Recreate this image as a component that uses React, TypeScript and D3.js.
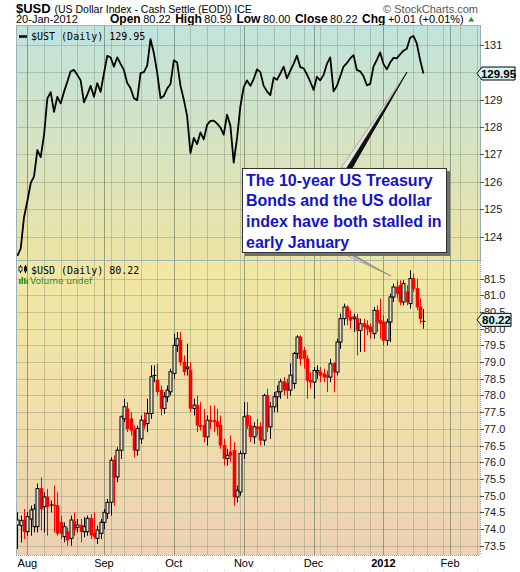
import React from "react";
import * as d3 from "d3";

const W = 520;
const H = 572;

// $UST daily closes (Jul 27 2011 .. Jan 20 2012)
const ustClose = [
  123.3, 123.57, 124.72, 125.3, 125.95, 126.2, 127.16, 126.9, 127.7, 129.04,
  129.27, 128.55, 129.1, 128.86, 129.28, 129.65, 130.03, 130.08, 129.9, 129.7,
  128.9, 129.18, 129.5, 129.1, 129.6, 129.28, 129.95, 130.59, 130.54, 130.2,
  130.54, 130.3, 130.08, 129.6, 129.41, 129.05, 128.98, 129.96, 130.0, 130.24,
  131.2, 130.7, 129.98, 129.05, 129.13, 129.4, 129.57, 130.43, 130.35, 129.5,
  129.0, 128.4, 127.05, 127.6, 127.38, 127.8, 127.55, 128.08, 128.22, 128.23,
  128.12, 127.98, 127.72, 128.45, 128.05, 126.7, 127.6, 128.75, 129.45, 129.7,
  129.5, 129.75, 130.1, 130.0, 129.5, 129.3, 129.16, 129.8, 129.72, 129.95,
  130.2, 129.77, 130.05, 130.3, 130.6, 130.18, 130.14, 129.92, 129.65, 129.35,
  129.83, 129.7, 129.9, 130.3, 130.54, 129.3, 129.5, 129.85, 130.2, 130.33,
  130.5, 130.62, 130.08, 130.03, 129.85, 129.52, 129.57, 130.2, 130.45, 130.72,
  130.3, 130.1, 130.35, 130.52, 130.5, 130.65, 130.78, 130.85, 131.25, 131.32,
  131.05, 130.45, 129.95,
];

// $USD daily OHLC
const usdOpen = [
  74.12, 74.1, 74.27, 73.92, 74.3, 74.07, 74.07, 75.21, 74.67, 74.96,
  74.7, 74.72, 74.7, 74.2, 73.77, 73.92, 73.72, 74.22, 74.05, 74.12,
  73.92, 73.92, 74.32, 73.87, 73.72, 73.87, 74.2, 74.47, 74.8, 76.06,
  75.56, 76.36, 77.3, 77.6, 77.3, 76.96, 76.36, 76.7, 77.26, 77.16,
  77.46, 78.56, 78.46, 78.16, 77.61, 77.96, 78.11, 78.66, 79.5, 79.65,
  79.0, 78.8, 78.76, 77.61, 77.71, 77.11, 77.11, 76.76, 77.26, 77.26,
  77.21, 77.11, 76.51, 76.11, 76.31, 76.36, 74.96, 75.11, 76.26, 77.41,
  77.11, 76.76, 77.06, 77.06, 76.66, 78.0, 77.06, 77.66, 77.96, 78.11,
  78.41, 78.36, 78.16, 78.36, 79.26, 79.75, 79.35, 79.1, 78.45, 78.4,
  78.7, 78.7, 78.65, 78.6, 78.55, 78.95, 78.7, 79.6, 80.3, 80.65,
  80.35, 80.3, 80.3, 79.95, 80.15, 80.1, 80.05, 79.85, 80.55, 80.25,
  80.2, 79.65, 80.2, 80.95, 81.25, 81.3, 80.8, 81.1, 80.75, 81.5,
  81.2, 80.65, 80.22,
];
const usdHigh = [
  74.5, 74.4, 74.6, 74.5, 74.7, 74.75, 75.36, 75.55, 75.1, 75.2,
  74.85, 75.3, 75.1, 74.4, 74.2, 74.05, 74.4, 74.5, 74.3, 74.3,
  74.35, 74.4, 74.45, 74.5, 74.1, 74.3, 74.6, 74.9, 76.15, 76.2,
  76.45, 77.4, 77.9, 77.8, 77.5, 77.1, 77.1, 77.4, 77.5, 77.9,
  78.9, 78.9, 78.95, 78.3, 78.1, 78.3, 78.8, 79.85, 79.9, 79.9,
  79.2, 79.55, 79.0, 77.9, 78.0, 77.8, 77.6, 77.4, 77.7, 77.7,
  77.6, 77.4, 76.7, 76.4, 76.8, 76.6, 75.3, 76.35, 77.8, 77.8,
  77.4, 77.2, 77.3, 77.2, 78.05, 78.2, 77.8, 78.1, 78.3, 78.5,
  78.55, 78.5, 78.96, 79.3, 79.8, 79.8, 79.45, 79.2, 78.7, 78.85,
  78.9, 78.85, 78.8, 78.75, 79.1, 79.0, 79.7, 80.45, 80.75, 80.7,
  80.55, 80.45, 80.45, 80.3, 80.3, 80.25, 80.15, 80.65, 80.7, 80.9,
  80.4, 80.3, 81.05, 81.35, 81.45, 81.45, 81.45, 81.3, 81.75, 81.65,
  81.5, 80.9, 80.59,
];
const usdLow = [
  73.4, 73.6, 73.7, 73.8, 73.8, 73.9, 73.9, 73.95, 73.9, 73.8,
  74.5, 73.9, 73.8, 73.7, 73.6, 73.5, 73.5, 73.8, 73.9, 73.6,
  73.75, 73.8, 73.7, 73.7, 73.55, 73.7, 74.0, 74.3, 74.4, 74.7,
  75.4, 76.1, 77.2, 76.9, 76.8, 76.15, 76.2, 76.55, 77.0, 76.9,
  77.3, 78.4, 78.0, 77.4, 77.45, 77.8, 78.0, 78.5, 79.3, 78.9,
  78.6, 78.6, 77.5, 77.4, 76.9, 76.95, 76.6, 76.5, 77.0, 76.9,
  76.8, 76.4, 75.9, 75.9, 76.0, 74.7, 74.8, 75.0, 76.1, 77.0,
  76.6, 76.55, 76.8, 76.5, 76.5, 76.9, 76.7, 77.5, 77.5, 77.9,
  78.0, 77.9, 78.0, 78.2, 79.1, 78.9, 78.8, 77.9, 78.2, 77.9,
  78.5, 78.4, 78.4, 78.1, 78.4, 78.1, 78.6, 79.4, 80.1, 80.1,
  80.0, 79.9, 79.2, 79.3, 79.3, 79.8, 79.7, 79.7, 79.9, 79.7,
  79.5, 79.5, 79.6, 80.8, 80.9, 80.7, 80.7, 80.7, 80.6, 81.1,
  80.55, 80.15, 80.0,
];
const usdClose = [
  74.27, 74.25, 73.92, 74.37, 74.57, 74.6, 75.21, 74.6, 74.96, 74.67,
  74.72, 74.7, 73.87, 73.87, 74.07, 73.67, 74.27, 73.97, 74.12, 73.92,
  74.07, 74.32, 73.82, 73.77, 73.97, 74.2, 74.5, 74.8, 76.06, 75.56,
  76.36, 77.36, 77.66, 77.0, 76.96, 76.36, 77.01, 77.26, 77.1, 77.46,
  78.56, 78.6, 78.11, 77.61, 77.96, 78.16, 78.71, 79.5, 79.7, 79.0,
  78.71, 78.85, 77.61, 77.71, 77.11, 77.06, 76.76, 77.26, 77.21, 77.21,
  77.06, 76.51, 76.11, 76.21, 76.21, 74.96, 75.16, 76.26, 77.36, 77.11,
  76.76, 77.06, 77.01, 76.66, 78.0, 77.06, 77.66, 77.96, 78.11, 78.41,
  78.16, 78.16, 78.61, 79.26, 79.75, 79.1, 79.1, 78.45, 78.4, 78.75,
  78.75, 78.6, 78.55, 78.55, 78.95, 78.7, 79.6, 80.3, 80.65, 80.35,
  80.25, 80.35, 79.95, 80.15, 80.05, 80.0, 79.9, 80.55, 80.2, 80.15,
  79.65, 80.2, 80.95, 81.25, 81.05, 80.8, 81.35, 80.8, 81.5, 81.2,
  80.65, 80.3, 80.22,
];

const topTicks = [124, 125, 126, 127, 128, 129, 131];
const topGrid = [124, 125, 126, 127, 128, 129, 130, 131];
const botTicks = [73.5, 74.0, 74.5, 75.0, 75.5, 76.0, 76.5, 77.0, 77.5, 78.0, 78.5, 79.0, 79.5, 80.0, 80.5, 81.0, 81.5];
const holidays = ["2011-09-05", "2011-11-24", "2011-12-26", "2012-01-02", "2012-01-16"];
const annotationLines = [
  "The 10-year US Treasury",
  "Bonds and the US dollar",
  "index have both stalled in",
  "early January",
];
const statLabels = ["Open", "High", "Low", "Close", "Chg"];
const statValues = ["80.22", "80.59", "80.00", "80.22", "+0.01 (+0.01%)"];

const FONT = "'Liberation Sans', Arial, sans-serif";
const MONO = "'DejaVu Sans Mono', monospace";

// approximate Arial advance widths (em) for header layout
const ARIAL: Record<string, number> = {
  "0": 0.556, "1": 0.556, "2": 0.556, "5": 0.556, "8": 0.556, "9": 0.556,
  ".": 0.278, "+": 0.584, "(": 0.333, ")": 0.333, "%": 0.889, " ": 0.278,
};
const ARIAL_BOLD: Record<string, number> = {
  O: 0.778, p: 0.611, e: 0.556, n: 0.611, H: 0.722, i: 0.278, g: 0.611, h: 0.611,
  L: 0.611, o: 0.611, w: 0.778, C: 0.722, l: 0.278, s: 0.556,
};
const textW = (s: string, size: number, table: Record<string, number>) =>
  s.split("").reduce((a, ch) => a + (table[ch] ?? 0.556), 0) * size;

function tradingDays(start: Date, end: Date): Date[] {
  const fmt = d3.timeFormat("%Y-%m-%d");
  const out: Date[] = [];
  const d = new Date(start);
  while (d <= end) {
    const dow = d.getDay();
    if (dow !== 0 && dow !== 6 && !holidays.includes(fmt(d))) out.push(new Date(d));
    d.setDate(d.getDate() + 1);
  }
  return out;
}

export default function App() {
  const days = tradingDays(new Date(2011, 6, 27), new Date(2012, 1, 14));
  const L = 16, R = 480;
  const topY0 = 25, topY1 = 260, botY0 = 260, botY1 = 555;

  const x = d3.scaleLinear().domain([-0.42, days.length - 1]).range([L, R]);
  const yTop = d3.scaleLinear().domain([124, 131]).range([236.7, 44.7]);
  const yBot = d3.scaleLinear().domain([73.5, 81.5]).range([545.7, 278.6]);

  const weekStarts: number[] = [];
  const monthStarts: number[] = [];
  days.forEach((d, i) => {
    if (i === 0) return;
    if (d.getDay() < days[i - 1].getDay()) weekStarts.push(i);
    if (d.getMonth() !== days[i - 1].getMonth()) monthStarts.push(i);
  });
  const vLines = Array.from(new Set([...weekStarts, ...monthStarts])).sort((a, b) => a - b);

  const line = d3
    .line<number>()
    .x((_, i) => x(i))
    .y((v) => yTop(v));

  const px = (v: number) => Math.round(v) + 0.5;

  const lastUst = ustClose[ustClose.length - 1];
  const lastUsd = usdClose[usdClose.length - 1];

  // header stats layout
  const statItems: { s: string; x: number; bold: boolean }[] = [];
  let cx0 = 110;
  statLabels.forEach((lab, i) => {
    statItems.push({ s: lab, x: cx0, bold: true });
    cx0 += textW(lab, 12, ARIAL_BOLD) + 2.5;
    statItems.push({ s: statValues[i], x: cx0, bold: false });
    cx0 += textW(statValues[i], 11, ARIAL) + 4.5;
  });
  const triX = cx0;

  const tag = (x0: number, yc: number, w: number, label: string) => (
    <g>
      <polygon
        points={`${x0},${yc} ${x0 + 5},${yc - 6.5} ${x0 + w},${yc - 6.5} ${x0 + w},${yc + 6.5} ${x0 + 5},${yc + 6.5}`}
        fill="#d6f4f6"
        stroke="#000"
        strokeWidth={1}
      />
      <text x={x0 + 5 + (w - 5) / 2} y={yc + 4} textAnchor="middle" fontFamily={FONT} fontWeight="bold" fontSize={11.5} fill="#000">
        {label}
      </text>
    </g>
  );

  const gridColor = "rgba(95,115,95,0.30)";
  const monthColor = "rgba(80,100,80,0.55)";

  const vGrid = (y0: number, y1: number) =>
    vLines.map((i) => (
      <line key={"v" + i} x1={px(x(i))} x2={px(x(i))} y1={y0} y2={y1} stroke={monthStarts.includes(i) ? monthColor : gridColor} />
    ));

  return (
    <svg width={W} height={H} style={{ position: "absolute", left: 0, top: 0, background: "#fff" }} xmlns="http://www.w3.org/2000/svg">
      <defs>
        <linearGradient id="gTop" x1="0" y1="0" x2="0" y2="1">
          <stop offset="0%" stopColor="#c0e3de" />
          <stop offset="50%" stopColor="#d6e3c2" />
          <stop offset="100%" stopColor="#ece4a4" />
        </linearGradient>
        <linearGradient id="gBot" x1="0" y1="0" x2="0" y2="1">
          <stop offset="0%" stopColor="#f1e8a2" />
          <stop offset="50%" stopColor="#f0dfaa" />
          <stop offset="100%" stopColor="#edd1b3" />
        </linearGradient>
        <clipPath id="cTop">
          <rect x={L} y={topY0} width={R - L} height={topY1 - topY0} />
        </clipPath>
        <clipPath id="cBot">
          <rect x={L} y={botY0} width={R - L} height={botY1 - botY0} />
        </clipPath>
      </defs>

      {/* Header */}
      <text x={16} y={13} fontFamily={FONT} fontWeight="bold" fontSize={13} fill="#000">$USD</text>
      <text x={54.5} y={13} fontFamily={FONT} fontSize={10.5} fill="#000">(US Dollar Index - Cash Settle (EOD)) ICE</text>
      <text x={478} y={13} textAnchor="end" fontFamily={FONT} fontSize={11} fill="#555">
        © StockCharts.com
      </text>
      <text x={16} y={22.5} fontFamily={FONT} fontSize={11} fill="#000">
        20-Jan-2012
      </text>
      {statItems.map((it, k) => (
        <text key={"st" + k} x={it.x} y={22.5} fontFamily={FONT} fontWeight={it.bold ? "bold" : "normal"} fontSize={it.bold ? 12 : 11} fill="#000">
          {it.s}
        </text>
      ))}
      <polygon points={`${triX},21.5 ${triX + 6},21.5 ${triX + 3},17`} fill="#1a9a1a" />

      {/* Top panel */}
      <rect x={L} y={topY0} width={R - L} height={topY1 - topY0} fill="url(#gTop)" />
      <g clipPath="url(#cTop)">
        {topGrid.map((t) => (
          <line key={t} x1={L} x2={R} y1={px(yTop(t))} y2={px(yTop(t))} stroke={gridColor} />
        ))}
        {vGrid(topY0, topY1)}
        <path d={line(ustClose) || ""} fill="none" stroke="#000" strokeWidth={1.8} strokeLinejoin="round" />
      </g>
      <rect x={L + 0.5} y={topY0 + 0.5} width={R - L} height={topY1 - topY0} fill="none" stroke="#9db3b8" />
      <line x1={19} x2={27} y1={36.5} y2={36.5} stroke="#000" strokeWidth={2.5} />
      <text x={31} y={40} fontFamily={MONO} fontSize={10} fill="#000">
        {`$UST (Daily) ${lastUst.toFixed(2)}`}
      </text>

      {/* Bottom panel */}
      <rect x={L} y={botY0} width={R - L} height={botY1 - botY0} fill="url(#gBot)" />
      <g clipPath="url(#cBot)">
        {botTicks.map((t) => (
          <line key={t} x1={L} x2={R} y1={px(yBot(t))} y2={px(yBot(t))} stroke={gridColor} />
        ))}
        {vGrid(botY0, botY1)}
        {usdClose.map((c, i) => {
          const o = usdOpen[i];
          const up = c >= o;
          const col = up ? "#000" : "#ff0000";
          const cx = px(x(i));
          const yA = yBot(Math.max(o, c));
          const yB = yBot(Math.min(o, c));
          const h = Math.max(1, yB - yA);
          return (
            <g key={i}>
              <line x1={cx} x2={cx} y1={yBot(usdHigh[i])} y2={yBot(usdLow[i])} stroke={col} strokeWidth={1} />
              {up ? (
                h > 1.5 ? (
                  <rect x={cx - 1.5} y={yA} width={3} height={h} fill="#e3e0d3" stroke="#000" strokeWidth={1} />
                ) : (
                  <line x1={cx - 2} x2={cx + 2} y1={yA} y2={yA} stroke="#000" />
                )
              ) : (
                <rect x={cx - 1.5} y={yA} width={3} height={h} fill="#ff0000" stroke="#ff0000" strokeWidth={0.6} />
              )}
            </g>
          );
        })}
      </g>
      <line x1={L} x2={R} y1={260.5} y2={260.5} stroke="#9db3b8" />
      <line x1={L + 0.5} x2={L + 0.5} y1={botY0} y2={botY1} stroke="#9db3b8" />
      <line x1={L} x2={R} y1={botY1 + 0.5} y2={botY1 + 0.5} stroke="#8fa6b0" strokeDasharray="1,1" />

      {/* bottom legend */}
      <g>
        <line x1={20.5} x2={20.5} y1={265} y2={273} stroke="#000" />
        <rect x={19} y={267} width={3} height={4} fill="#fff" stroke="#000" strokeWidth={0.8} />
        <line x1={25.5} x2={25.5} y1={265} y2={273} stroke="#000" />
        <rect x={24} y={266.5} width={3} height={5} fill="#000" />
        <text x={31} y={274} fontFamily={MONO} fontSize={10} fill="#000">
          {`$USD (Daily) ${lastUsd.toFixed(2)}`}
        </text>
        <rect x={19} y={279} width={1.6} height={5} fill="#2e8b2e" />
        <rect x={21.5} y={277} width={1.6} height={7} fill="#2e8b2e" />
        <rect x={24} y={278} width={1.6} height={6} fill="#2e8b2e" />
        <rect x={26.5} y={280} width={1.6} height={4} fill="#2e8b2e" />
        <text x={30} y={283.5} fontFamily="'DejaVu Sans', Verdana, sans-serif" fontSize={9} fill="#2e8b2e">
          Volume undef
        </text>
      </g>

      {/* Right axis */}
      <line x1={R + 0.5} x2={R + 0.5} y1={topY0} y2={botY1} stroke="#8fa6b0" strokeDasharray="1,1" />
      {topGrid.map((t) => (
        <line key={"tk" + t} x1={R} x2={R + 4} y1={px(yTop(t))} y2={px(yTop(t))} stroke="#555" />
      ))}
      {topTicks.map((t) => (
        <text key={"tt" + t} x={R + 4} y={yTop(t) + 4} fontFamily={FONT} fontSize={11} fill="#222">
          {t}
        </text>
      ))}
      {botTicks.map((t) => (
        <g key={"bt" + t}>
          <line x1={R} x2={R + 4} y1={px(yBot(t))} y2={px(yBot(t))} stroke="#555" />
          <text x={R + 4} y={yBot(t) + 4} fontFamily={FONT} fontSize={11} fill="#222">
            {t.toFixed(1)}
          </text>
        </g>
      ))}
      {tag(477, yTop(lastUst), 38, lastUst.toFixed(2))}
      {tag(477, yBot(lastUsd) - 1.5, 34, lastUsd.toFixed(2))}

      {/* X axis labels */}
      {monthStarts.map((i) => {
        const d = days[i];
        const isYear = d.getMonth() === 0;
        return (
          <text key={"xl" + i} x={x(i)} y={567} textAnchor="middle" fontFamily={FONT} fontSize={11} fontWeight={isYear ? "bold" : "normal"} fill="#000">
            {isYear ? String(d.getFullYear()) : d3.timeFormat("%b")(d)}
          </text>
        );
      })}
      {weekStarts.map((i) => (
        <rect key={"xd" + i} x={Math.round(x(i))} y={570} width={1} height={1} fill="#c8c8c8" />
      ))}

      {/* Annotation callout */}
      <polygon points="341,168 346.5,168 407,72" fill="#e4e4e4" stroke="#8a8a8a" strokeWidth={0.6} />
      <polygon points="346.5,168 352,168 407,72" fill="#111" />
      <line x1={352} y1={168} x2={407} y2={72} stroke="#000" strokeWidth={1} />
      <polygon points="342,253 347,253 391,276" fill="#eee" stroke="#8a8a8a" strokeWidth={0.8} />
      <polygon points="347,253 351,253 391,276" fill="#888" />
      <rect x={245} y={171} width={205} height={85} fill="#6e6e6e" />
      <rect x={242.5} y={168.5} width={204} height={84} fill="#fff" stroke="#333" strokeWidth={1} />
      {annotationLines.map((s, k) => (
        <text key={k} x={246} y={185.5 + k * 20.7} fontFamily={FONT} fontWeight="bold" fontSize={16} fill="#1414c8">
          {s}
        </text>
      ))}
    </svg>
  );
}
